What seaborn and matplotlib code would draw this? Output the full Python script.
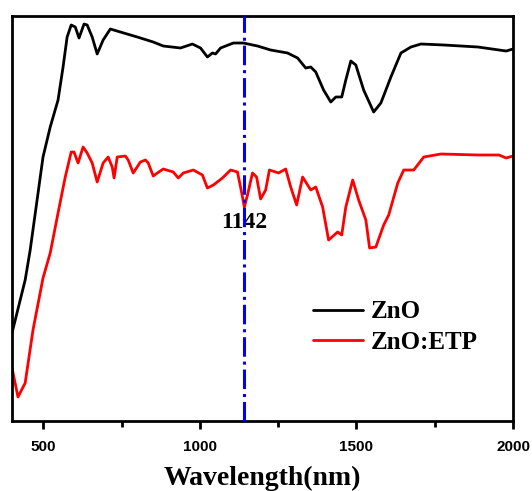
import numpy as np
import pandas as pd
import matplotlib
matplotlib.use('Agg')
import matplotlib.pyplot as plt
import seaborn as sns
from matplotlib.ticker import MultipleLocator

# ZnO transmittance (arbitrary units) vs wavelength (nm)
zno_wl = [400, 442, 458, 499, 522, 547, 563, 576, 589, 602, 614, 630, 640, 656, 672, 691,
          714, 746, 800, 851, 883, 938, 976, 1002, 1024, 1040, 1050, 1066, 1107, 1139,
          1184, 1226, 1280, 1312, 1338, 1354, 1370, 1395, 1418, 1434, 1453, 1466, 1482,
          1498, 1523, 1555, 1578, 1610, 1642, 1674, 1706, 1779, 1888, 1978, 2000]
zno_t = [88, 141, 171, 264, 294, 321, 354, 384, 396, 394, 383, 397, 396, 384, 367, 381,
         392, 389, 384, 379, 375, 373, 377, 373, 364, 368, 367, 373, 378, 378,
         375, 371, 368, 363, 353, 354, 349, 331, 319, 324, 324, 341, 360,
         356, 331, 309, 318, 344, 368, 374, 377, 376, 374, 370, 372]

# ZnO:ETP
etp_wl = [400, 419, 442, 467, 499, 522, 547, 570, 589, 598, 611, 627, 640, 656, 672, 691,
          707, 720, 726, 736, 762, 771, 787, 810, 826, 835, 851, 864, 883, 915, 931, 947,
          979, 1008, 1024, 1043, 1072, 1098, 1120, 1133, 1142, 1152, 1168, 1181, 1194,
          1210, 1222, 1242, 1251, 1274, 1290, 1309, 1328, 1354, 1370, 1392, 1411, 1440,
          1453, 1466, 1488, 1507, 1530, 1542, 1562, 1587, 1603, 1632, 1651, 1683, 1715,
          1770, 1888, 1955, 1978, 2000]
etp_t = [53, 24, 38, 91, 143, 168, 208, 244, 269, 269, 258, 274, 268, 258, 239, 258,
         264, 254, 243, 264, 265, 261, 248, 259, 261, 258, 245, 248, 252, 249, 243, 248,
         251, 246, 233, 236, 243, 251, 249, 229, 214, 226, 248, 244, 222,
         231, 251, 249, 248, 252, 234, 216, 244, 231, 234, 214, 181, 189,
         186, 214, 241, 221, 201, 173, 174, 196, 206, 238, 251, 251, 264,
         267, 266, 266, 263, 265]

peak_wl = 1142
series = ['ZnO', 'ZnO:ETP']
colors = ['black', 'red']

df = pd.concat([
    pd.DataFrame({'wl': zno_wl, 't': zno_t, 'sample': series[0]}),
    pd.DataFrame({'wl': etp_wl, 't': etp_t, 'sample': series[1]}),
])

sns.set_style('ticks')
plt.rcParams['text.color'] = 'black'
plt.rcParams['xtick.color'] = 'black'
plt.rcParams['axes.edgecolor'] = 'black'
plt.rcParams['axes.labelcolor'] = 'black'

fig = plt.figure(figsize=(5.32, 4.91), dpi=100)
ax = fig.add_axes([0.0226, 0.1426, 0.9417, 0.8248])

sns.lineplot(data=df, x='wl', y='t', hue='sample', palette=colors, sort=False,
             linewidth=2.0, ax=ax)
ax.axvline(peak_wl, color='blue', linestyle='-.', linewidth=2.2, zorder=4)
ax.text(peak_wl, 198, str(peak_wl), ha='center', va='center', fontsize=17,
        fontweight='bold', family='Liberation Serif', zorder=1)

ax.set_xlim(400, 2000)
ax.set_ylim(0, 405)
ax.set_yticks([])
ax.xaxis.set_major_locator(MultipleLocator(500))
ax.xaxis.set_minor_locator(MultipleLocator(250))
ax.tick_params(axis='x', which='major', direction='out', length=6, width=2, pad=8,
               colors='black')
ax.tick_params(axis='x', which='minor', direction='out', length=4, width=2)
for lab in ax.get_xticklabels():
    lab.set_fontweight('bold')
    lab.set_fontsize(11)
    lab.set_family('Liberation Sans')
for s in ax.spines.values():
    s.set_linewidth(2)
    s.set_visible(True)
    s.set_color('black')

ax.set_ylabel('')
ax.set_xlabel('Wavelength(nm)', fontsize=20, fontweight='bold', family='Liberation Serif',
              labelpad=8)

leg = ax.legend(loc='lower right', bbox_to_anchor=(0.975, 0.11), frameon=False,
                handlelength=2.0, handletextpad=0.3, labelspacing=0.3,
                prop={'family': 'Liberation Serif', 'weight': 'bold', 'size': 18})
for h in leg.get_lines():
    h.set_linewidth(2.0)

fig.savefig('out.png', dpi=100)
